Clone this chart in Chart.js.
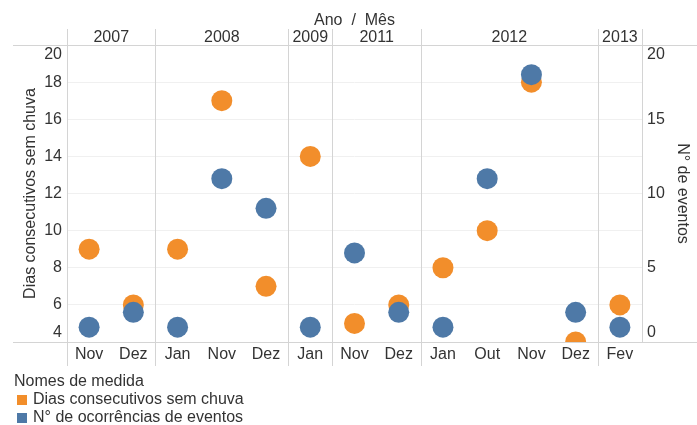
<!DOCTYPE html>
<html>
<head>
<meta charset="utf-8">
<script src="https://cdn.jsdelivr.net/npm/chart.js@4/dist/chart.umd.min.js"></script>
<style>
  html, body { margin: 0; padding: 0; background: #fff; }
  #wrap { width: 697px; height: 425px; }
</style>
</head>
<body>
<div id="wrap"><canvas id="chart" width="697" height="425"></canvas></div>
<script>
// Dias sem chuva vs. ocorrências de eventos, por ano / mês

const months = ['Nov', 'Dez', 'Jan', 'Nov', 'Dez', 'Jan', 'Nov', 'Dez', 'Jan', 'Out', 'Nov', 'Dez', 'Fev'];
const yearOfMonth = ['2007', '2007', '2008', '2008', '2008', '2009', '2011', '2011', '2012', '2012', '2012', '2012', '2013'];

const diasSemChuva = [9, 6, 9, 17, 7, 14, 5, 6, 8, 10, 18, 4, 6];
const ocorrencias = [1, 2, 1, 11, 9, 1, 6, 2, 1, 11, 18, 2, 1];

const leftTicks = [4, 6, 8, 10, 12, 14, 16, 18, 20];
const rightTicks = [0, 5, 10, 15, 20];

const FONT = '"Liberation Sans", Arial, sans-serif';
const TEXT = '#333333';
const LINE = '#d4d4d4';
const ORANGE = '#f28e2b';
const BLUE = '#4e79a7';

// headers, tick labels, separators and legend drawn with the chart's scales
const decorPlugin = {
  id: 'decor',
  afterDraw(chart) {
    const ctx = chart.ctx;
    const area = chart.chartArea;
    const x = chart.scales.x;
    const yL = chart.scales.y;
    const yR = chart.scales.y1;
    ctx.save();

    // horizontal border lines
    ctx.strokeStyle = LINE;
    ctx.lineWidth = 1;
    ctx.beginPath();
    ctx.moveTo(13, Math.round(area.top) + 0.5);
    ctx.lineTo(697, Math.round(area.top) + 0.5);
    ctx.moveTo(13, Math.round(area.bottom) + 0.5);
    ctx.lineTo(697, Math.round(area.bottom) + 0.5);
    ctx.stroke();

    // vertical lines: left edge, year separators, right edge
    const sepX = [Math.round(area.left) + 0.5];
    for (let i = 1; i < months.length; i++) {
      if (yearOfMonth[i] !== yearOfMonth[i - 1]) {
        sepX.push(Math.round((x.getPixelForValue(i - 1) + x.getPixelForValue(i)) / 2) + 0.5);
      }
    }
    ctx.beginPath();
    sepX.forEach(px => {
      ctx.moveTo(px, 29);
      ctx.lineTo(px, 366);
    });
    ctx.moveTo(Math.round(area.right) + 0.5, 29);
    ctx.lineTo(Math.round(area.right) + 0.5, area.bottom);
    ctx.stroke();

    ctx.fillStyle = TEXT;
    ctx.font = '16px ' + FONT;
    ctx.textBaseline = 'middle';

    // title
    ctx.textAlign = 'center';
    ctx.fillText('Ano  /  Mês', (area.left + area.right) / 2, 21);

    // year headers
    let start = 0;
    for (let i = 1; i <= months.length; i++) {
      if (i === months.length || yearOfMonth[i] !== yearOfMonth[start]) {
        const cx = (x.getPixelForValue(start) + x.getPixelForValue(i - 1)) / 2;
        ctx.fillText(yearOfMonth[start], cx, 38);
        start = i;
      }
    }

    // month labels
    months.forEach((m, i) => {
      ctx.fillText(m, x.getPixelForValue(i), 355);
    });

    // y tick labels, kept inside the plot area like the original
    const clampY = v => Math.min(Math.max(v, area.top + 10), area.bottom - 9);
    ctx.textAlign = 'right';
    leftTicks.forEach(t => {
      ctx.fillText(String(t), area.left - 5, clampY(yL.getPixelForValue(t)));
    });
    ctx.textAlign = 'left';
    rightTicks.forEach(t => {
      ctx.fillText(String(t), area.right + 5, clampY(yR.getPixelForValue(t)));
    });

    // axis titles
    const midY = (area.top + area.bottom) / 2;
    ctx.textAlign = 'center';
    ctx.save();
    ctx.translate(31, midY);
    ctx.rotate(-Math.PI / 2);
    ctx.fillText('Dias consecutivos sem chuva', 0, 0);
    ctx.restore();
    ctx.save();
    ctx.translate(682, midY);
    ctx.rotate(Math.PI / 2);
    ctx.fillText('N° de eventos', 0, 0);
    ctx.restore();

    // legend
    ctx.textAlign = 'left';
    ctx.fillText('Nomes de medida', 14, 382);
    ctx.fillStyle = ORANGE;
    ctx.fillRect(17, 395, 10, 10);
    ctx.fillStyle = BLUE;
    ctx.fillRect(17, 413, 10, 10);
    ctx.fillStyle = TEXT;
    ctx.fillText('Dias consecutivos sem chuva', 33, 400);
    ctx.fillText('N° de ocorrências de eventos', 33, 418);

    ctx.restore();
  }
};

new Chart(document.getElementById('chart'), {
  type: 'line',
  data: {
    labels: months,
    datasets: [
      {
        label: 'Dias consecutivos sem chuva',
        data: diasSemChuva,
        yAxisID: 'y',
        showLine: false,
        pointRadius: 10.5,
        pointHoverRadius: 10.5,
        pointBorderWidth: 0,
        backgroundColor: ORANGE,
        borderColor: ORANGE,
        clip: 0,
        order: 1
      },
      {
        label: 'N° de ocorrências de eventos',
        data: ocorrencias,
        yAxisID: 'y1',
        showLine: false,
        pointRadius: 10.5,
        pointHoverRadius: 10.5,
        pointBorderWidth: 0,
        backgroundColor: BLUE,
        borderColor: BLUE,
        clip: 0,
        order: 0
      }
    ]
  },
  options: {
    responsive: false,
    animation: false,
    events: [],
    layout: { padding: { left: 67, right: 55, top: 45, bottom: 83 } },
    plugins: {
      legend: { display: false },
      tooltip: { enabled: false }
    },
    scales: {
      x: {
        type: 'category',
        offset: true,
        grid: { display: false, drawTicks: false },
        border: { display: false },
        ticks: { display: false }
      },
      y: {
        position: 'left',
        min: 4,
        max: 20,
        afterBuildTicks: axis => { axis.ticks = leftTicks.map(v => ({ value: v })); },
        grid: { color: '#f0f0f0', drawTicks: false },
        border: { display: false },
        ticks: { display: false }
      },
      y1: {
        position: 'right',
        min: 0,
        max: 20,
        afterBuildTicks: axis => { axis.ticks = rightTicks.map(v => ({ value: v })); },
        grid: { display: false, drawTicks: false },
        border: { display: false },
        ticks: { display: false }
      }
    }
  },
  plugins: [decorPlugin]
});
</script>
</body>
</html>
